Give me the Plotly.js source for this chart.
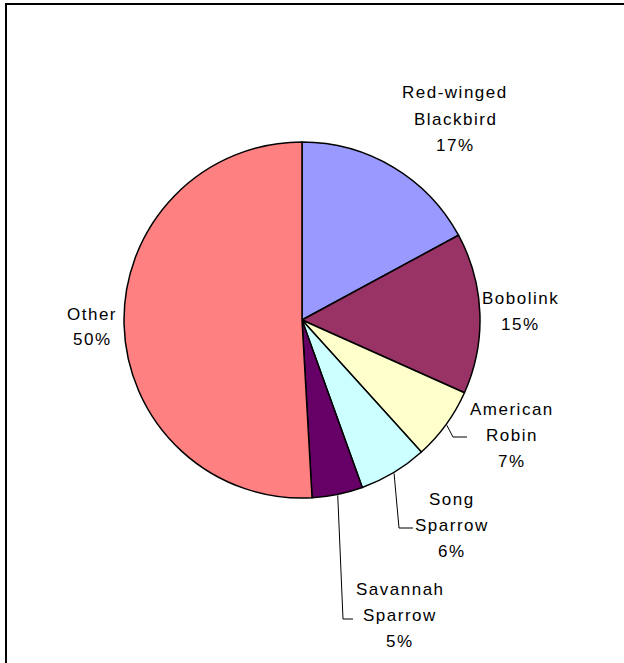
<!DOCTYPE html>
<html>
<head>
<meta charset="utf-8">
<script src="https://cdn.plot.ly/plotly-3.0.1.min.js"></script>
<style>
  html, body { margin: 0; padding: 0; background: #fff; }
  #chart { width: 624px; height: 663px; }
  .annotation-text { letter-spacing: 1.5px; }
</style>
</head>
<body>
<div id="chart"></div>
<script>
// ---- data ----
const species = ["Red-winged Blackbird", "Bobolink", "American Robin", "Song Sparrow", "Savannah Sparrow", "Other"];
const labelLines = [["Red-winged", "Blackbird"], ["Bobolink"], ["American", "Robin"], ["Song", "Sparrow"], ["Savannah", "Sparrow"], ["Other"]];
const shares = [17.1, 14.6, 6.6, 6.2, 4.6, 50.9];
const pctLabels = ["17%", "15%", "7%", "6%", "5%", "50%"];
const colors = ["#9999FF", "#993366", "#FFFFCC", "#CCFFFF", "#660066", "#FF8080"];

// ---- layout helpers (pixels -> paper) ----
const W = 624, H = 663;
const px = x => x / W;
const py = y => 1 - y / H;
const cx = 302, cy = 320, R = 178;

// label block positions (center x, first-line center y)
const labelPos = [[455, 93], [520, 298], [512, 409], [452, 499], [400, 589], [92, 314]];
const LINE = 26;

const annotations = [];
species.forEach((s, i) => {
  const lines = labelLines[i].concat([pctLabels[i]]);
  lines.forEach((t, j) => {
    annotations.push({
      text: t, xref: "paper", yref: "paper",
      x: px(labelPos[i][0]), y: py(labelPos[i][1] + j * LINE),
      xanchor: "center", yanchor: "middle", showarrow: false,
      font: { family: "Liberation Sans, Arial, sans-serif", size: 17, color: "#000" }
    });
  });
});

// leader lines: start at slice mid-angle on the arc (from data), elbow then horizontal to the label
const total = shares.reduce((a, b) => a + b, 0);
const leaders = { 2: [[453, 437], [467, 437]], 3: [[399, 528], [413, 528]], 4: [[343, 619], [353, 619]] };
const shapes = [];
let cum = 0;
shares.forEach((v, i) => {
  const mid = (cum + v / 2) / total * 2 * Math.PI;
  cum += v;
  if (leaders[i]) {
    const sx = cx + (R + 1) * Math.sin(mid), sy = cy - (R + 1) * Math.cos(mid);
    const pts = [[sx, sy]].concat(leaders[i]);
    const path = pts.map((p, k) => (k ? "L" : "M") + px(p[0]) + "," + py(p[1])).join(" ");
    shapes.push({ type: "path", xref: "paper", yref: "paper", path: path, line: { color: "#000", width: 1 } });
  }
});

// chart frame (left and top edges visible)
shapes.push({ type: "line", xref: "paper", yref: "paper", x0: px(6), x1: px(6), y0: py(4), y1: py(700), line: { color: "#000", width: 2 } });
shapes.push({ type: "line", xref: "paper", yref: "paper", x0: px(5), x1: px(700), y0: py(4), y1: py(4), line: { color: "#000", width: 2 } });

const trace = {
  type: "pie",
  labels: species,
  values: shares,
  sort: false,
  direction: "clockwise",
  rotation: 0,
  textinfo: "none",
  hoverinfo: "none",
  marker: { colors: colors, line: { color: "#000", width: 1.5 } },
  domain: { x: [px(cx - R), px(cx + R)], y: [py(cy + R), py(cy - R)] },
  showlegend: false
};

const layout = {
  width: W, height: H,
  margin: { l: 0, r: 0, t: 0, b: 0 },
  paper_bgcolor: "#fff",
  showlegend: false,
  annotations: annotations,
  shapes: shapes
};

Plotly.newPlot("chart", [trace], layout, { displayModeBar: false, staticPlot: true });
</script>
</body>
</html>
